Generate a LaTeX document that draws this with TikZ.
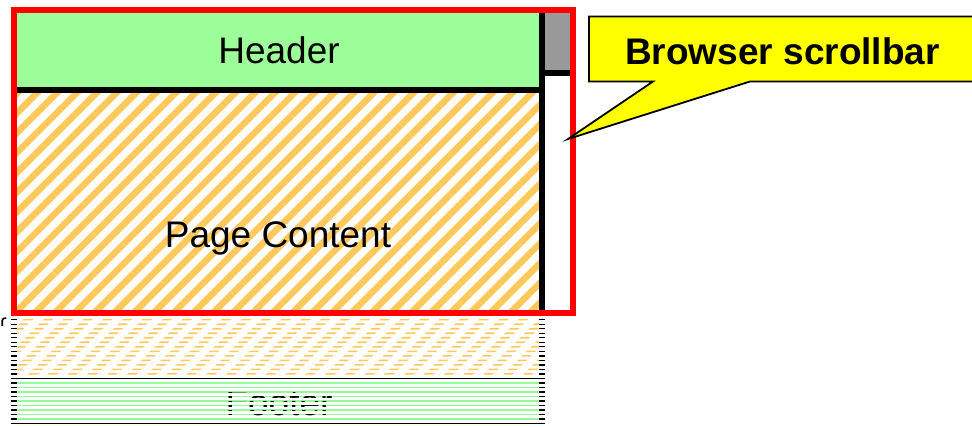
\documentclass[tikz,border=0pt]{standalone}
\usepackage{fontspec}
\setmainfont{Liberation Sans}
\usetikzlibrary{patterns.meta}
\definecolor{hdrgreen}{RGB}{157,255,154}
\definecolor{linegreen}{RGB}{150,250,150}
\definecolor{hatchorange}{RGB}{255,200,90}
\definecolor{thumbgray}{RGB}{153,153,153}
\definecolor{frame}{RGB}{255,0,0}
\definecolor{callout}{RGB}{255,255,0}
\tikzset{
  lbl/.style={font=\fontsize{37}{40}\selectfont, anchor=base, inner sep=0pt},
  boldlbl/.style={font=\fontsize{37}{40}\selectfont\bfseries, anchor=base, inner sep=0pt},
  hatch/.style={pattern={Lines[angle=45,distance=14pt,line width=6.5pt]}, pattern color=hatchorange},
  thick line/.style={line width=6pt},
  row line/.style={line width=1.3pt},
}
\begin{document}
\begin{tikzpicture}[x=1pt,y=-1pt]
\useasboundingbox (0,0) rectangle (972,427);
\clip (0,0) rectangle (972,427);
\fill[white] (0,0) rectangle (972,427);
% header
\fill[hdrgreen] (14,10) rectangle (541.5,90);
% page content hatch
\fill[hatch] (14,90) rectangle (541.5,313);
% scrollbar thumb
\fill[thumbgray] (541.5,10) rectangle (573,73);
% black dividers
\draw[thick line] (14,90) -- (541.5,90);
\draw[thick line] (541.5,10) -- (541.5,313);
\draw[thick line] (541.5,73) -- (573,73);
% red viewport frame
\draw[thick line, frame] (14,10) rectangle (573,313);
% labels
\node[lbl] (header) at (279,64) {Header};
\node[lbl] (content) at (278,248) {Page Content};
% interlaced hidden content: hatch rows
\begin{scope}
  \clip foreach \k in {0,...,12} {(17,{319.7+4.52*\k-0.8}) rectangle (539,{319.7+4.52*\k+0.8})};
  \fill[hatch] (17,316) rectangle (539,378);
\end{scope}
% green footer rows
\foreach \k in {14,...,22}
  \draw[row line, linegreen] (17,{319.7+4.52*\k}) -- (539,{319.7+4.52*\k});
% footer text, interlaced
\begin{scope}
  \clip foreach \k in {14,...,22} {(17,{319.7+4.52*\k-0.75}) rectangle (539,{319.7+4.52*\k+0.75})};
  \node[lbl] (footer) at (279,415.5) {Footer};
\end{scope}
% black edge dashes
\foreach \k in {0,...,12,14,15,...,22} {
  \draw[row line] (11,{319.7+4.52*\k}) -- (17,{319.7+4.52*\k});
  \draw[row line] (539,{319.7+4.52*\k}) -- (545,{319.7+4.52*\k});
}
\draw[row line] (11,378.5) -- (545,378.5);
\draw[row line] (11,423.6) -- (545,423.6);
% fragment at left edge
\draw[line width=1.6pt] (2.2,326) -- (2.2,320.5) .. controls (2.2,318.6) and (4,318) .. (6.2,318);
% callout
\coordinate (tip) at (568,139);
\filldraw[fill=callout, draw=black, line width=1.8pt, line join=miter]
  (589,16.5) -- (985,16.5) -- (985,81.5) -- (750,81.5) -- (tip) -- (653,81.5) -- (589,81.5) -- cycle;
\node[boldlbl] (scroll) at (782.5,65) {Browser scrollbar};
\end{tikzpicture}
\end{document}
